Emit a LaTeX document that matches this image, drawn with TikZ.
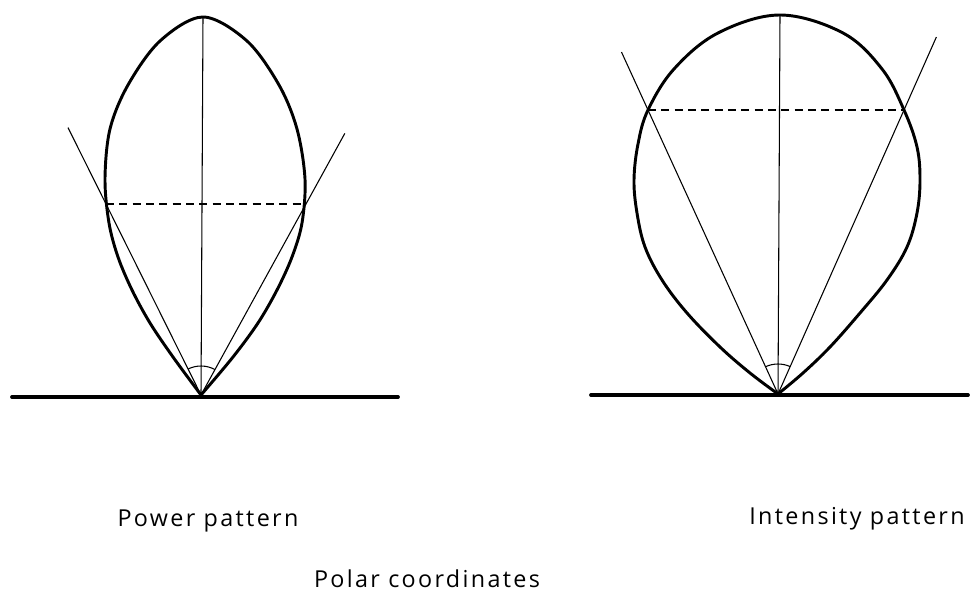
\documentclass[tikz,border=0pt]{standalone}
\usepackage{fontspec}
\setmainfont{Open Sans}[LetterSpace=10]
\usetikzlibrary{calc}
\tikzset{
  lobo/.style={line width=2.2pt, line join=round},
  base/.style={line width=2.8pt, line cap=round},
  fina/.style={line width=0.8pt},
  tracejado/.style={fina, dash pattern=on 6pt off 4pt},
  rotulo/.style={font=\fontsize{17.5}{20}\selectfont, inner sep=0pt, anchor=base},
}
\begin{document}
\begin{tikzpicture}[x=0.75pt, y=0.75pt]
  \useasboundingbox (0,0) rectangle (970,599);
  % diagrama de potencia
  \coordinate (o1) at (201,204);
  \coordinate (t1) at (203,582);
  \coordinate (a1) at (106,395);
  \coordinate (b1) at (306,395);
  \coordinate (e1) at (12,202);
  \coordinate (f1) at (398,202);
  \draw[lobo] plot[smooth, tension=0.55] coordinates {(o1) (173,242) (150,276) (132,309) (118,342) (109,376) (105,420) (110,470) (128,514) (160,558) (t1) (247,558) (279,514) (297,470) (305,420) (302,376) (292,342) (277,309) (258,276) (233,242) (o1)};
  \draw[base] (e1) -- (f1);
  \draw[fina] (o1) -- (t1);
  \draw[fina] (o1) -- ($(o1)!1.4!(a1)$);
  \draw[fina] (o1) -- ($(o1)!1.37!(b1)$);
  \draw[tracejado] (a1) -- (b1);
  \draw[fina] ($(o1)+(61.3:29)$) arc[start angle=61.3, end angle=116.5, radius=29];
  % diagrama de intensidade
  \coordinate (o2) at (778,205);
  \coordinate (t2) at (780,584);
  \coordinate (a2) at (648,489);
  \coordinate (b2) at (904,489);
  \coordinate (e2) at (591,204);
  \coordinate (f2) at (968,204);
  \draw[lobo] plot[smooth, tension=0.6] coordinates {(o2) (750,226) (720,252) (687,286) (662,319) (645,352) (637,386) (634,419) (638,455) (a2) (674,530) (718,566) (t2) (843,566) (882,530) (b2) (917,452) (920,419) (917,386) (907,352) (887,319) (860,286) (830,252) (803,226) (o2)};
  \draw[base] (e2) -- (f2);
  \draw[fina] (o2) -- (t2);
  \draw[fina] (o2) -- ($(o2)!1.204!(a2)$);
  \draw[fina] (o2) -- ($(o2)!1.257!(b2)$);
  \draw[tracejado] (a2) -- (b2);
  \draw[fina] ($(o2)+(66.1:30)$) arc[start angle=66.1, end angle=114.3, radius=30];
  % legendas
  \node[rotulo] (pot) at (208,72) {Power pattern};
  \node[rotulo] (int) at (857,74) {Intensity pattern};
  \node[rotulo] (pol) at (427,12) {Polar coordinates};
\end{tikzpicture}
\end{document}
